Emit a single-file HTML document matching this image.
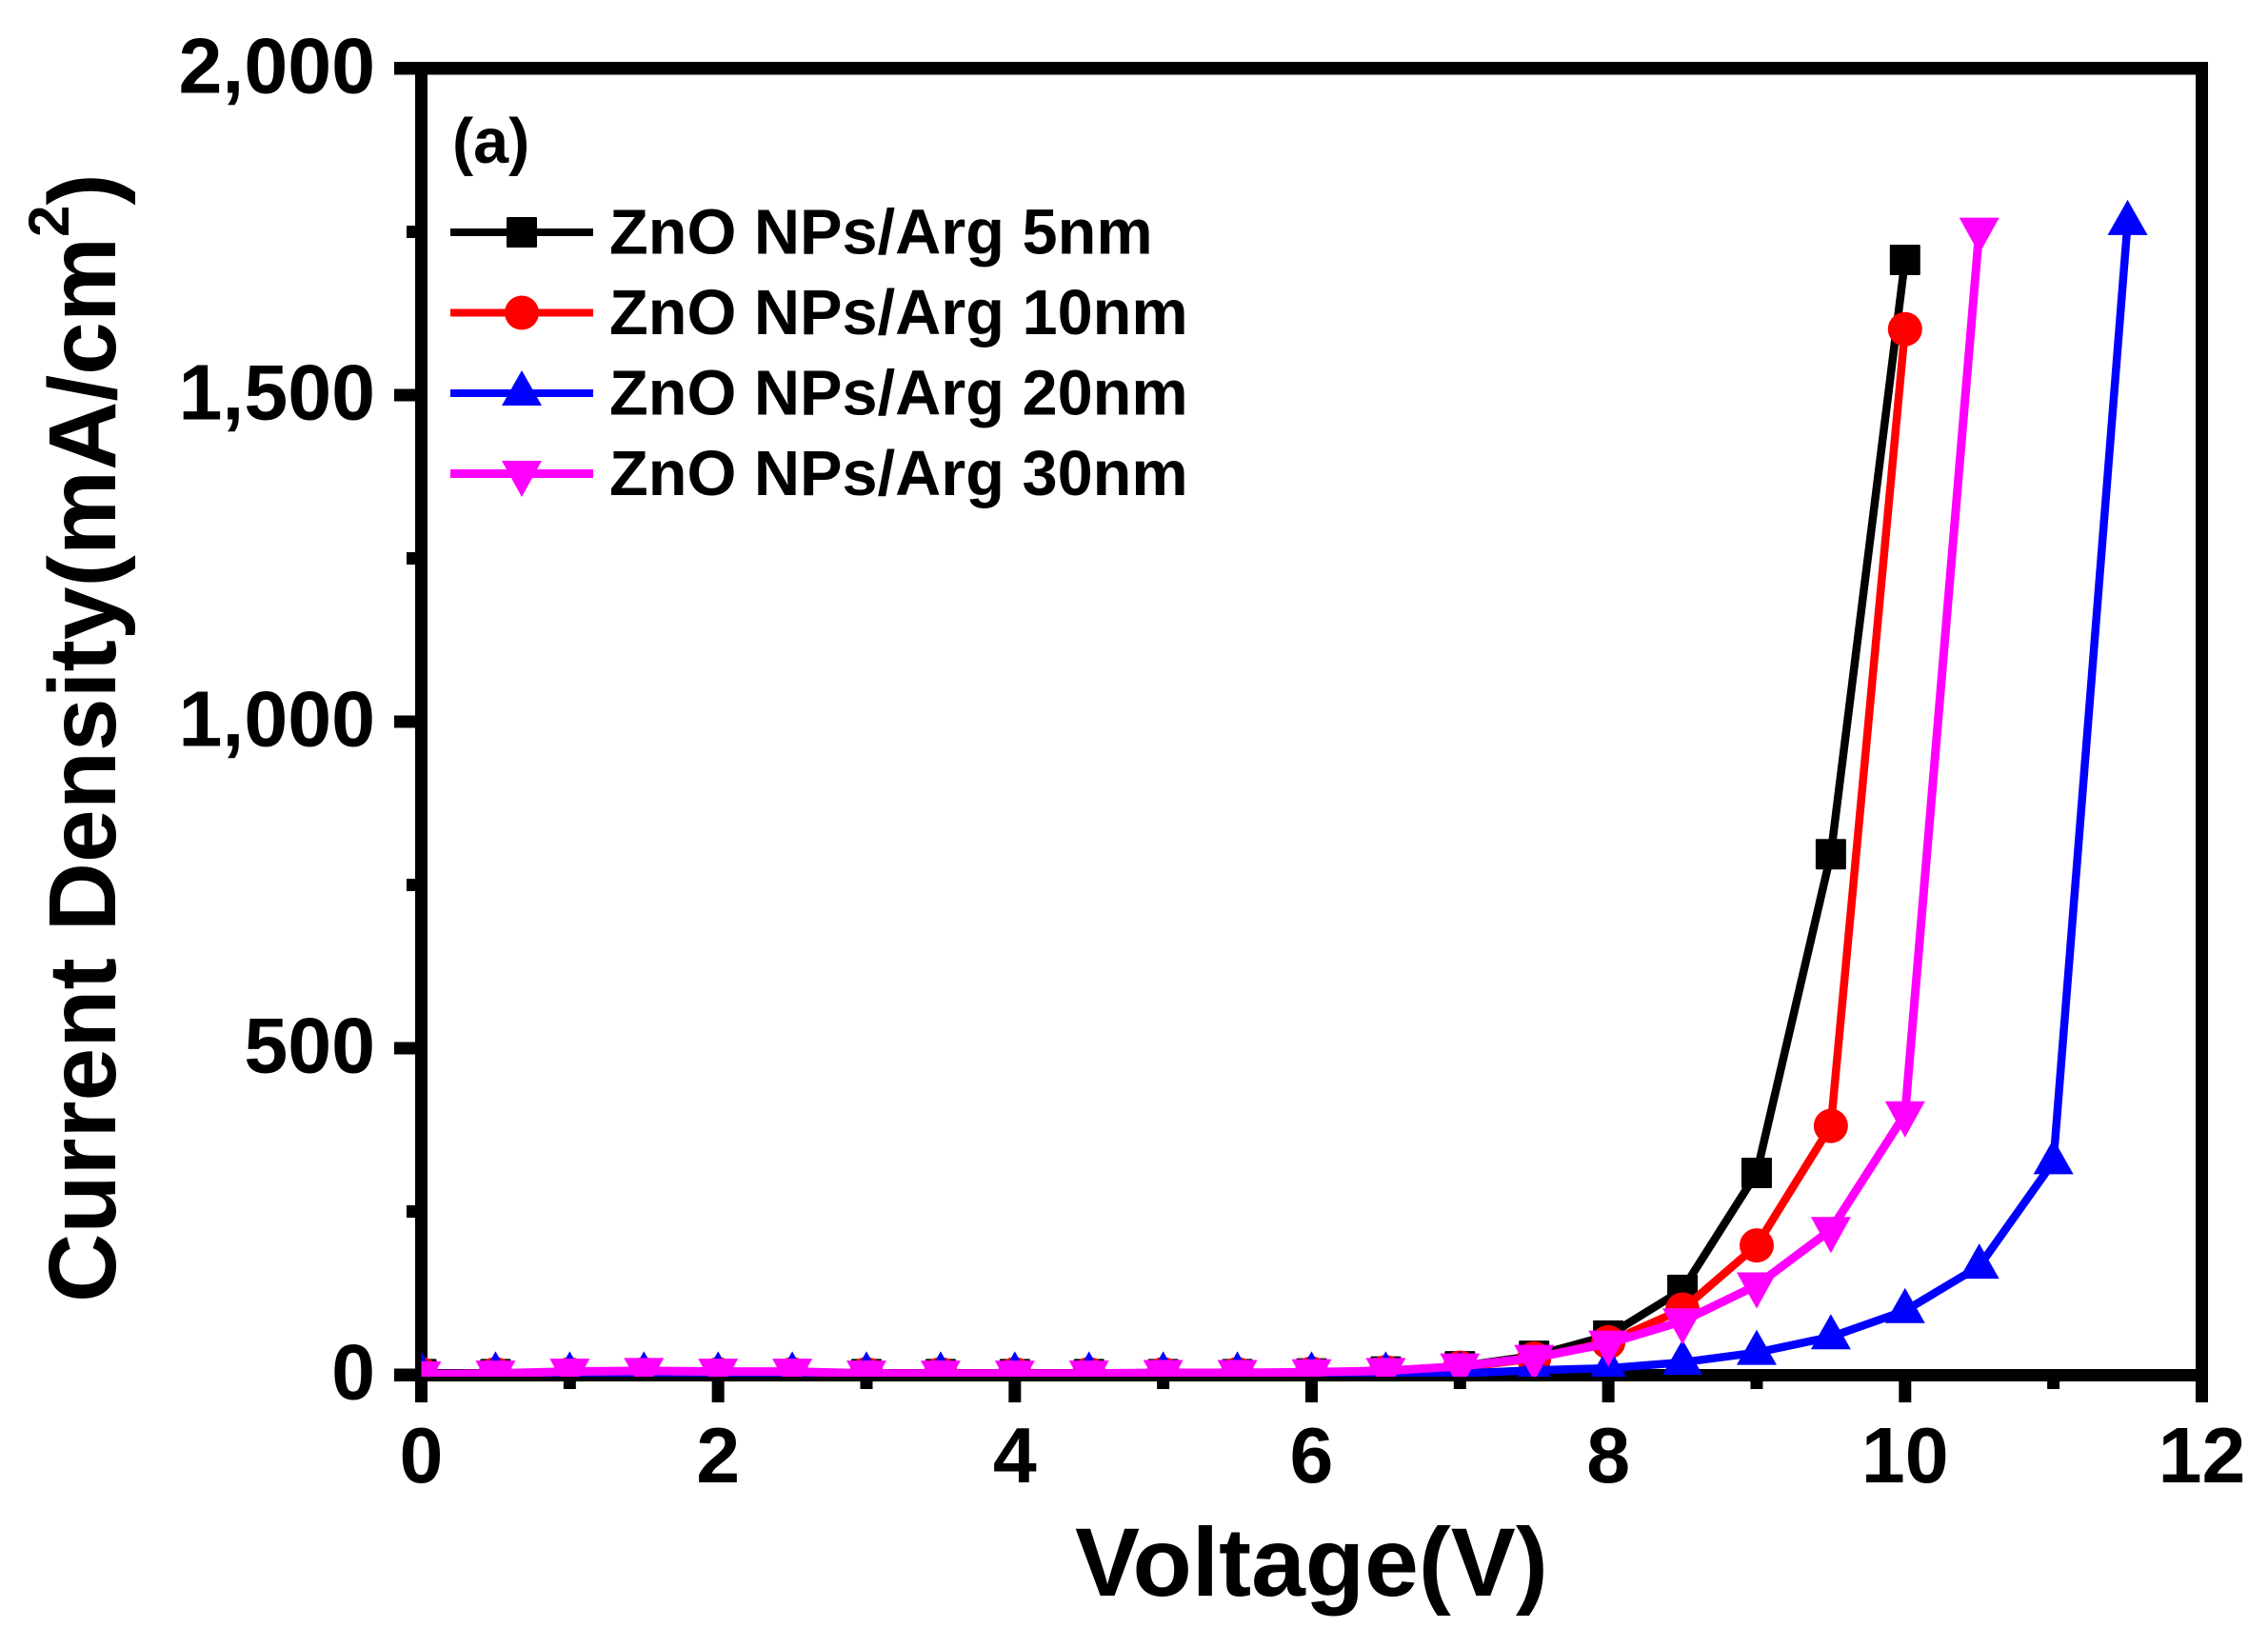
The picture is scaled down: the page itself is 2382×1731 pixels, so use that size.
<!DOCTYPE html>
<html lang="en">
<head>
<meta charset="utf-8">
<title>Current Density vs Voltage</title>
<style>
html,body{margin:0;padding:0;background:#fff;}
svg{display:block;}
text{font-family:"Liberation Sans",Arial,sans-serif;font-weight:bold;fill:#000;}
</style>
</head>
<body>
<svg id="chart" xmlns="http://www.w3.org/2000/svg" width="2382" height="1731" viewBox="0 0 2382 1731">
  <rect x="0" y="0" width="2382" height="1731" fill="#fff"/>
  <defs>
    <clipPath id="plot-clip"><rect x="442.5" y="60" width="1876" height="1386"/></clipPath>
  </defs>
  <g id="axes"></g>
  <g id="series" clip-path="url(#plot-clip)"></g>
  <g id="legend"></g>
  <text x="475" y="171" font-size="66.5">(a)</text>
  <text x="1129" y="1676" font-size="102">Voltage(V)</text>
  <text transform="translate(121,1368) rotate(-90)" font-size="100.2">Current Density(mA/cm<tspan font-size="60" dy="-49">2</tspan><tspan dy="49">)</tspan></text>
</svg>
<script>
const voltages = [0,0.5,1,1.5,2,2.5,3,3.5,4,4.5,5,5.5,6,6.5,7,7.5,8,8.5,9,9.5,10,10.5,11,11.5];
const seriesNames = ["ZnO NPs/Arg 5nm","ZnO NPs/Arg 10nm","ZnO NPs/Arg 20nm","ZnO NPs/Arg 30nm"];
const arg5nm  = [1,1,1,1,1,1,1,1,1,1,1,1,2,5,13,29,60,130,309,797,1707];
const arg10nm = [1,1,1,1,1,1,1,1,1,1,1,1,2,4,11,25,50,100,198,381,1601];
const arg20nm = [1,1,1,1,1,1,1,1,1,1,1,1,1,1,2,7,10,19,34,58,98,166,326,1764];
const arg30nm = [1,2,5,6,5,5,2,2,2,2,3,3,4,6,13,26,48,82,137,222,399,1752];
const xTickLabels = ["0","2","4","6","8","10","12"];
const xTickValues = [0,2,4,6,8,10,12];
const xMinorValues = [1,3,5,7,9,11];
const yTickLabels = ["0","500","1,000","1,500","2,000"];
const yTickValues = [0,500,1000,1500,2000];
const yMinorValues = [250,750,1250,1750];

const NS = "http://www.w3.org/2000/svg";
const xAxis = v => 442.5 + v * 155.83;
const yAxis = v => 1444 - v * 0.686;

function make(tag, attrs, parent) {
  const el = document.createElementNS(NS, tag);
  for (const k in attrs) el.setAttribute(k, attrs[k]);
  parent.appendChild(el);
  return el;
}

const axes = document.getElementById("axes");
const seriesGroup = document.getElementById("series");
const legend = document.getElementById("legend");

// spines
const spineTop = make("rect", {x:414,y:65,width:1905,height:13.5,fill:"#000"}, axes);


const spineBottom = make("rect", {x:414,y:1438,width:1905,height:13,fill:"#000"}, axes);


const spineLeft = make("rect", {x:436,y:65,width:13,height:1408,fill:"#000"}, axes);


const spineRight = make("rect", {x:2306,y:65,width:13,height:1408,fill:"#000"}, axes);



// x ticks
xTickValues.forEach((v, i) => {
  const t = make("rect", {x:xAxis(v)-6.5,y:1445,width:13,height:28,fill:"#000"}, axes);
  
  
  const l = make("text", {x:xAxis(v),y:1557,"font-size":82.5,"text-anchor":"middle"}, axes);
  
  
  l.textContent = xTickLabels[i];
});
xMinorValues.forEach(v => {
  const t = make("rect", {x:xAxis(v)-6.5,y:1445,width:13,height:14,fill:"#000"}, axes);
  
  
});

// y ticks
yTickValues.forEach((v, i) => {
  const t = make("rect", {x:414,y:yAxis(v)-6.5,width:30,height:13,fill:"#000"}, axes);
  
  
  const l = make("text", {x:394,y:yAxis(v)+25.5,"font-size":82.5,"text-anchor":"end"}, axes);
  
  
  l.textContent = yTickLabels[i];
});
yMinorValues.forEach(v => {
  const t = make("rect", {x:427,y:yAxis(v)-6.5,width:14,height:13,fill:"#000"}, axes);
  
  
});

function drawMarker(kind, cx, cy, color, parent) {
  if (kind === "square") {
    return make("rect", {x:cx-16,y:cy-16,width:32,height:32,rx:1,fill:color}, parent);
  }
  if (kind === "circle") {
    return make("circle", {cx:cx,cy:cy,r:18,fill:color}, parent);
  }
  if (kind === "up") {
    return make("polygon", {points:`${cx},${cy-24} ${cx+21},${cy+13} ${cx-21},${cy+13}`,fill:color}, parent);
  }
  return make("polygon", {points:`${cx-21},${cy-13.5} ${cx+21},${cy-13.5} ${cx},${cy+24.5}`,fill:color}, parent);
}

const seriesValues = [arg5nm, arg10nm, arg20nm, arg30nm];
const seriesColors = ["#000000","#ff0000","#0000ff","#ff00ff"];
const seriesMarkers = ["square","circle","up","down"];
const seriesKeys = ["5nm","10nm","20nm","30nm"];
const seriesStroke = [8.5,8.5,8.5,9];
const legendLineHeight = [8,8,8,9];

seriesValues.forEach((vals, s) => {
  const g = make("g", {}, seriesGroup);
  
  
  const pts = vals.map((v, i) => xAxis(voltages[i]) + "," + yAxis(v)).join(" ");
  const line = make("polyline", {points:pts,fill:"none",stroke:seriesColors[s],"stroke-width":seriesStroke[s],"stroke-linejoin":"miter"}, g);
  
  
  vals.forEach((v, i) => {
    const m = drawMarker(seriesMarkers[s], xAxis(voltages[i]), yAxis(v), seriesColors[s], g);
    
    
  });

  const ly = 244 + s * 84.5;
  const entry = make("g", {}, legend);
  
  
  const ll = make("rect", {x:473,y:ly-legendLineHeight[s]/2,width:150,height:legendLineHeight[s],fill:seriesColors[s]}, entry);
  
  
  const lm = drawMarker(seriesMarkers[s], 548, ly, seriesColors[s], entry);
  
  
  const lt = make("text", {x:640,y:ly+22.7,"font-size":66.7}, entry);
  
  
  lt.textContent = seriesNames[s];
});
</script>
</body>
</html>
